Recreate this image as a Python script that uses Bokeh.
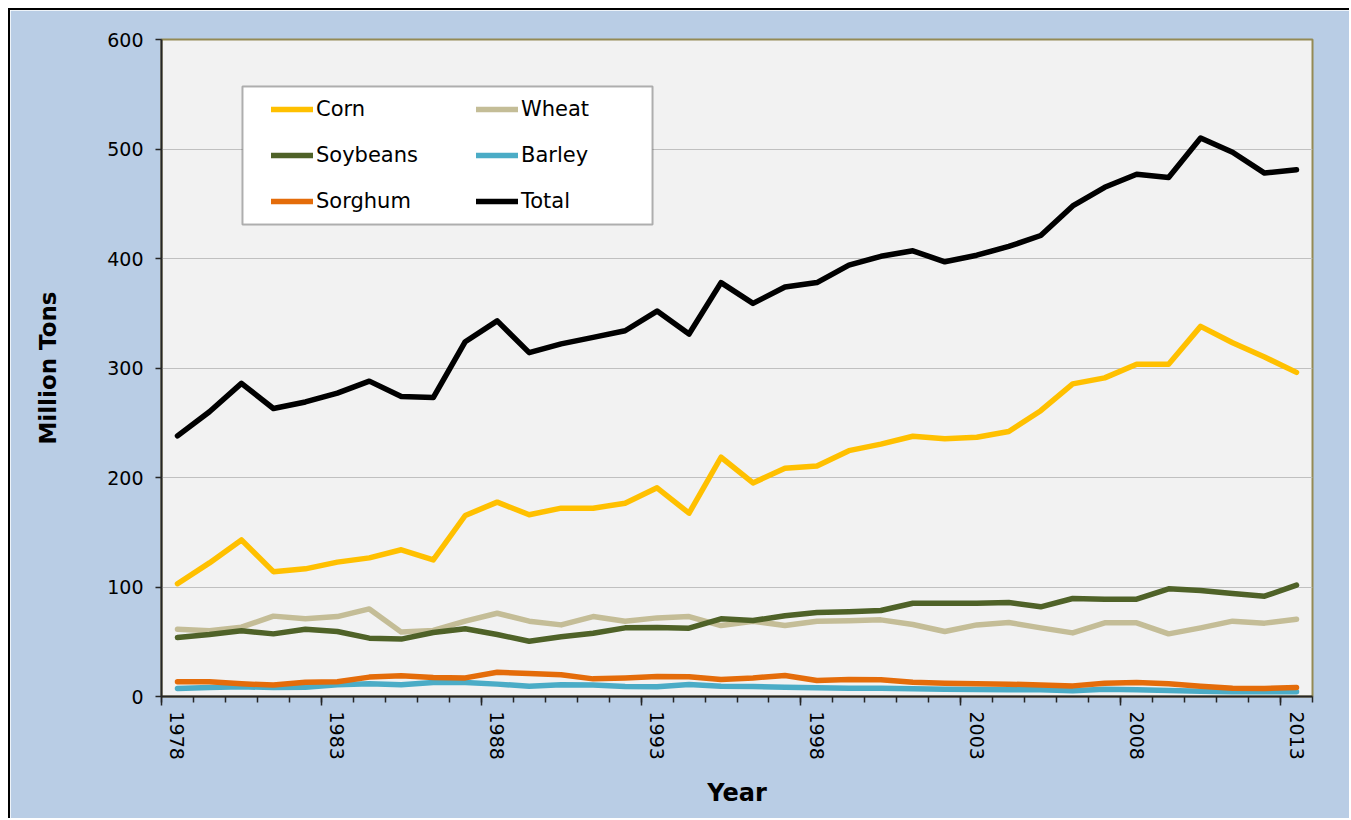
from bokeh.plotting import figure
from bokeh.models import (FixedTicker, LinearAxis, Legend, LegendItem,
                          BoxAnnotation, Range1d, ColumnDataSource)
from bokeh.embed import file_html
from bokeh.resources import INLINE

years = list(range(1978, 2014))
corn = [103, 122, 143, 114, 116.6, 122.7, 126.6, 134, 124.8, 165.3, 177.5, 166,
        172, 172, 176.5, 190.6, 167.4, 218.5, 195, 208.5, 210.5, 224.5, 230.5, 237.7,
        235.3, 236.8, 242, 261, 285.5, 291, 303.5, 303.5, 338, 323, 310, 296]
wheat = [61.5, 60, 63.3, 73.4, 71, 73, 80, 58.8, 60.3, 68.8, 76, 68.8,
         65.4, 73, 68.8, 71.8, 73, 64.8, 68.8, 64.8, 68.8, 69.1, 70, 65.8,
         59.4, 65.4, 67.6, 62.7, 58.1, 67.3, 67.3, 57.2, 62.7, 68.8, 67, 70.6]
soybeans = [53.9, 56.6, 60, 57.2, 61.5, 59.4, 53.3, 52.4, 58.4, 61.8, 56.6, 50.5,
            54.5, 57.8, 62.7, 63, 62.4, 70.9, 69.4, 73.7, 76.7, 77.3, 78.5, 85.2,
            85.2, 85.2, 85.8, 81.9, 89.5, 88.9, 88.9, 98.3, 96.8, 94, 91.6, 101.7]
barley = [7.3, 8.2, 8.8, 8.2, 8.5, 10.7, 11.6, 10.7, 12.8, 12.8, 11.3, 9.4,
          10.7, 10.4, 9.1, 8.8, 11, 9.4, 9.1, 8.5, 7.9, 7.6, 7.6, 7,
          6.7, 6.4, 6.1, 6.1, 5.2, 6.7, 6.1, 5.5, 4.9, 4.3, 4.3, 4.3]
sorghum = [13.4, 13.4, 11.6, 10.4, 13.1, 13.4, 17.7, 18.9, 17.4, 17, 22.2, 21,
           19.8, 16.1, 17, 18.3, 18, 15.5, 17, 19.2, 14.6, 15.5, 15.2, 13.1,
           12.2, 11.6, 11.3, 10.4, 9.7, 12.2, 12.8, 11.6, 9.4, 7.6, 7.3, 8.2]
total = [238, 260, 286, 263, 269, 277, 288, 274, 273, 324, 343, 314,
         322, 328, 334, 352, 331, 378, 359, 374, 378, 394, 402, 407,
         397, 403, 411, 421, 448, 465, 477, 474, 510, 497, 478, 481]

series_names = ["Corn", "Wheat", "Soybeans", "Barley", "Sorghum", "Total"]
series_values = [corn, wheat, soybeans, barley, sorghum, total]
series_colors = ["#ffc000", "#c4bd97", "#4f6228", "#4bacc6", "#e46c0a", "#000000"]

y_ticks = [0, 100, 200, 300, 400, 500, 600]
x_label_years = [1978, 1983, 1988, 1993, 1998, 2003, 2008, 2013]

FONT = "DejaVu Sans"

p = figure(width=1341, height=810,
           x_range=Range1d(years[0] - 0.5, years[-1] + 0.5),
           y_range=Range1d(y_ticks[0], y_ticks[-1]),
           output_backend="svg", toolbar_location=None,
           min_border_left=151, min_border_right=39,
           min_border_top=29, min_border_bottom=124)
p.styles = {"margin-left": "8px", "margin-top": "8px",
            "border-left": "2px solid black", "border-top": "2px solid black"}
p.background_fill_color = "#f2f2f2"
p.border_fill_color = "#b9cde5"
p.outline_line_color = "#948a54"
p.outline_line_width = 2

p.xgrid.visible = False
p.ygrid.grid_line_color = "#c0c0c0"
p.ygrid.grid_line_width = 1.2

# y axis
yax = p.yaxis[0]
yax.ticker = FixedTicker(ticks=y_ticks)
yax.minor_tick_line_color = None
yax.major_tick_in = 0
yax.major_tick_out = 6
yax.major_tick_line_color = "#262626"
yax.major_tick_line_width = 1.5
yax.axis_line_color = "#262626"
yax.axis_line_width = 2
yax.major_label_standoff = 12
yax.major_label_text_font = FONT
yax.major_label_text_font_size = "19px"
yax.major_label_text_color = "#000000"
yax.axis_label = "Million Tons"
yax.axis_label_text_font = FONT
yax.axis_label_text_font_size = "23px"
yax.axis_label_text_font_style = "bold"
yax.axis_label_text_color = "#000000"
yax.axis_label_standoff = 43

# x axis with tick marks at category boundaries
xax = p.xaxis[0]
boundaries = [y - 0.5 for y in years] + [years[-1] + 0.5]
xax.ticker = FixedTicker(ticks=boundaries[::5], minor_ticks=boundaries)
xax.major_tick_in = 0
xax.major_tick_out = 9
xax.minor_tick_in = 0
xax.minor_tick_out = 6
xax.major_tick_line_color = "#262626"
xax.minor_tick_line_color = "#262626"
xax.major_tick_line_width = 1.5
xax.minor_tick_line_width = 1.5
xax.axis_line_color = "#262626"
xax.axis_line_width = 2
xax.major_label_text_font_size = "0px"
xax.major_label_text_alpha = 0
xax.major_label_standoff = 0

# second x axis carrying the year labels
xlab = LinearAxis(ticker=FixedTicker(ticks=x_label_years),
                  major_label_overrides={y: str(y) for y in x_label_years},
                  major_label_orientation="vertical",
                  axis_line_color=None, major_tick_line_color=None,
                  minor_tick_line_color=None,
                  major_label_standoff=0,
                  major_label_text_font=FONT,
                  major_label_text_font_size="19px",
                  major_label_text_color="#000000",
                  axis_label="Year",
                  axis_label_text_font=FONT,
                  axis_label_text_font_size="24px",
                  axis_label_text_font_style="bold",
                  axis_label_text_color="#000000",
                  axis_label_standoff=16)
p.add_layout(xlab, "below")

src = ColumnDataSource(dict(year=years, **{n: v for n, v in zip(series_names, series_values)}))
renderers = {}
for name, color in zip(series_names, series_colors):
    renderers[name] = p.line("year", name, source=src, line_color=color, line_width=5.5,
                             line_cap="round", line_join="round")

box = BoxAnnotation(left=81, right=491, top=610, bottom=472,
                    left_units="screen", right_units="screen",
                    top_units="screen", bottom_units="screen",
                    fill_color="white", fill_alpha=1.0,
                    line_color="black", line_width=2)
p.add_layout(box)

legend = Legend(items=[LegendItem(label=n, renderers=[renderers[n]]) for n in series_names],
                location=(110, 472), orientation="horizontal", ncols=2,
                glyph_width=42, glyph_height=46, label_height=46, label_width=160,
                label_standoff=3, spacing=0, padding=0, margin=0,
                background_fill_alpha=0, border_line_alpha=0,
                label_text_font=FONT, label_text_font_size="21px",
                label_text_color="#000000")
p.add_layout(legend, "center")

open("out.html", "w").write(file_html(p, INLINE))
